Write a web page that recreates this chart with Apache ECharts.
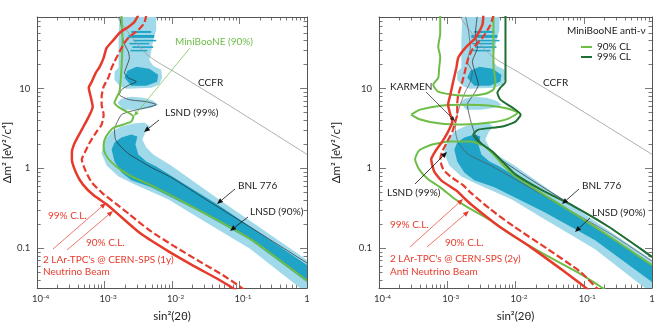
<!DOCTYPE html>
<html><head><meta charset="utf-8">
<script src="https://cdn.jsdelivr.net/npm/echarts@6/dist/echarts.min.js"></script>
<style>html,body{margin:0;padding:0;background:#fff}#c{width:664px;height:327px}</style>
</head><body><div id="c"></div>
<script>
// ---------- axis data ----------
const sinRange = [1e-4, 1];          // sin^2(2θ)
const dm2Range = [0.0316, 79.4];     // Δm^2 [eV^2/c^4]
const xTickValues = [1e-4, 1e-3, 1e-2, 1e-1, 1];
const yTickValues = [0.1, 1, 10];

// ---------- LSND allowed regions (shared by both panels) ----------
const lsndLightColumn = [[1.66e-3,79.4],[5.82e-3,79.4],[5.82e-3,54.6],[5.26e-3,41.0],[4.91e-3,29.0],[4.59e-3,23.0],[5.26e-3,19.4],[6.89e-3,17.3],[7.13e-3,13.7],[6.44e-3,11.2],[4.91e-3,10.3],[2.11e-3,10.0],[1.66e-3,10.9],[1.40e-3,13.0],[1.40e-3,16.3],[1.61e-3,18.3],[1.61e-3,41.0]];
const lsndLightIsland = [[1.55e-3,6.68],[1.78e-3,7.50],[2.49e-3,7.94],[3.75e-3,7.72],[5.26e-3,7.08],[6.22e-3,6.31],[4.91e-3,5.79],[3.16e-3,5.46],[1.90e-3,5.46]];
const lsndLightMain = [[9.35e-4,1.83],[1.03e-3,2.30],[1.27e-3,2.90],[1.78e-3,3.35],[2.67e-3,3.65],[3.87e-3,3.76],[4.75e-3,3.35],[4.01e-3,2.82],[3.62e-3,2.30],[4.15e-3,1.83],[5.26e-3,1.50],[9.67e-3,1.09],[4.91e-2,0.41],[1,0.0708],[1,0.0316],[0.789,0.0316],[0.145,0.0972],[2.67e-2,0.230],[8.73e-3,0.41],[2.76e-3,0.631],[1.61e-3,0.794],[1.07e-3,1.09],[9.03e-4,1.54]];
const lsndDarkMain = [[1.27e-3,1.73],[1.40e-3,2.11],[1.78e-3,2.44],[2.49e-3,2.66],[3.06e-3,2.51],[2.86e-3,2.0],[3.16e-3,1.50],[4.15e-3,1.22],[5.82e-3,1.06],[4.91e-2,0.345],[1,0.0613],[1,0.0376],[0.145,0.126],[2.67e-2,0.282],[4.91e-3,0.579],[2.49e-3,0.708],[1.78e-3,0.891],[1.40e-3,1.22]];
const lsndDarkBlob = [[1.97e-3,13.7],[2.18e-3,16.8],[2.96e-3,18.8],[4.59e-3,17.8],[6.22e-3,15.0],[6.01e-3,12.2],[4.15e-3,10.9],[2.49e-3,10.9]];
// stripes: [sinLow, sinHigh, dm2Low, dm2High]
const lsndDarkStripes = [[2.49e-3,4.91e-3,50.1,53.1],[2.25e-3,5.43e-3,43.4,47.3],[2.67e-3,5.82e-3,39.3,41.0],[2.33e-3,4.59e-3,36.0,37.6],[2.58e-3,5.26e-3,32.5,34.0],[2.41e-3,4.29e-3,29.4,30.7]];

const ccfr = [[1.36e-3,92],[2.11e-3,54.6],[4.29e-3,26.6],[1.15e-2,15.8],[7.4e-2,6.0],[1,1.5]];

// ---------- left panel (neutrino) ----------
const bnl776Nu = [[1.66e-3,84.1],[1.78e-3,57.9],[1.90e-3,38.7],[2.25e-3,29.0],[2.33e-3,24.4],[2.11e-3,18.8],[1.97e-3,15.8],[2.25e-3,13.7],[2.96e-3,12.2],[2.33e-3,11.2],[1.78e-3,9.72],[1.66e-3,8.41],[2.33e-3,7.29],[4.15e-3,6.88],[5.82e-3,6.31],[4.15e-3,5.79],[2.33e-3,5.16],[1.78e-3,4.73],[1.55e-3,3.87],[1.40e-3,3.07],[1.45e-3,2.30],[1.78e-3,1.83],[2.33e-3,1.50],[3.50e-3,1.22],[4.91e-3,1.03],[9.67e-3,0.772],[2.67e-2,0.447],[0.145,0.183],[1,0.065]];
const miniBooNENu = [[1.78e-3,84.1],[1.84e-3,38.7],[1.78e-3,18.3],[1.72e-3,12.2],[1.66e-3,9.17],[1.50e-3,7.72],[1.40e-3,6.68],[1.66e-3,5.79],[2.25e-3,5.01],[2.67e-3,4.47],[2.49e-3,3.87],[1.90e-3,3.55],[1.36e-3,3.25],[1.15e-3,2.82],[1.0e-3,2.30],[9.67e-4,1.88],[1.03e-3,1.50],[1.27e-3,1.19],[1.78e-3,0.944],[2.67e-3,0.772],[4.91e-3,0.613],[2.67e-2,0.29],[0.145,0.1296],[1,0.039]];
const lar99Nu = [[3.16e-3,84.1],[2.76e-3,68.8],[2.25e-3,59.6],[1.66e-3,50.1],[1.36e-3,41.0],[1.07e-3,32.5],[9.67e-4,24.4],[8.44e-4,18.8],[7.38e-4,15.8],[6.44e-4,12.2],[5.82e-4,10.3],[6.22e-4,7.94],[6.66e-4,5.96],[5.82e-4,4.47],[4.59e-4,3.07],[3.62e-4,2.11],[3.27e-4,1.58],[3.27e-4,1.30],[3.75e-4,0.891],[4.75e-4,0.631],[6.89e-4,0.46],[1.07e-3,0.355],[1.78e-3,0.244],[3.50e-3,0.150],[8.73e-3,0.0917],[2.11e-2,0.0596],[4.75e-2,0.041],[7.89e-2,0.0316],[0.1,0.0275]];
const lar90Nu = [[4.15e-3,84.1],[3.87e-3,66.8],[3.16e-3,54.6],[2.33e-3,44.7],[1.97e-3,37.6],[1.66e-3,29.0],[1.40e-3,21.8],[1.27e-3,18.3],[1.15e-3,14.1],[9.67e-4,10.6],[9.03e-4,7.94],[9.03e-4,6.31],[9.67e-4,4.73],[9.03e-4,3.55],[7.62e-4,2.90],[6.02e-4,2.11],[5.08e-4,1.58],[4.59e-4,1.30],[5.26e-4,0.917],[6.44e-4,0.668],[9.35e-4,0.487],[1.45e-3,0.365],[2.33e-3,0.266],[4.59e-3,0.168],[1.07e-2,0.106],[2.49e-2,0.0688],[5.62e-2,0.046],[0.1035,0.0325],[0.13,0.028]];

// ---------- right panel (anti-neutrino) ----------
const bnl776Anti = [[2.76e-3,84.1],[2.58e-3,47.3],[2.76e-3,32.5],[2.33e-3,21.8],[2.58e-3,15.8],[2.86e-3,11.2],[2.41e-3,8.41],[1.97e-3,6.31],[2.18e-3,4.10],[2.58e-3,2.66],[3.62e-3,1.83],[6.01e-3,1.30],[1.66e-2,0.729],[4.91e-2,0.41],[0.178,0.217],[1,0.0794]];
const karmen = [[1.84e-3,84.1],[2.04e-3,54.6],[2.18e-3,32.5],[1.97e-3,21.8],[2.33e-3,16.3],[2.18e-3,12.2],[1.84e-3,9.17],[1.55e-3,6.31],[1.36e-3,4.34],[1.31e-3,3.07],[1.45e-3,2.11],[2.04e-3,1.50],[4.29e-3,1.09],[1.19e-2,0.668],[4.59e-2,0.345],[0.249,0.150],[1,0.0688]];
const mbAnti90Upper = [[7.89e-4,84.1],[7.89e-4,50.1],[7.38e-4,33.5],[7.89e-4,25.1],[7.62e-4,18.3],[7.38e-4,13.7],[6.22e-4,11.2],[7.38e-4,9.17],[1.19e-3,8.41],[2.04e-3,8.18],[3.62e-3,8.66],[4.75e-3,9.72],[5.08e-3,12.2],[4.75e-3,20.0],[4.75e-3,84.1]];
const mbAnti90Island = [[2.96e-4,4.73],[4.01e-4,5.46],[7.89e-4,6.13],[1.72e-3,6.31],[4.29e-3,6.13],[7.89e-3,5.62],[1.07e-2,5.01],[7.89e-3,4.22],[4.29e-3,3.76],[1.72e-3,3.55],[7.89e-4,3.65],[4.01e-4,4.10],[2.96e-4,4.73]];
const mbAnti90Lower = [[0.25,0.027],[0.19,0.0316],[9.03e-2,0.0473],[2.96e-2,0.0794],[9.35e-3,0.141],[4.29e-3,0.224],[1.97e-3,0.326],[1.31e-3,0.41],[7.89e-4,0.579],[5.26e-4,0.729],[3.87e-4,0.972],[3.38e-4,1.30],[3.87e-4,1.68],[6.02e-4,2.0],[1.11e-3,2.17],[2.18e-3,2.17],[3.62e-3,1.88],[5.08e-3,1.41],[6.66e-3,1.09],[1.0e-2,0.794],[1.97e-2,0.546],[7.13e-2,0.274],[0.249,0.137],[1,0.0613]];
const mbAnti99 = [[7.13e-3,84.1],[7.13e-3,16.3],[7.13e-3,12.2],[6.01e-3,10.3],[5.43e-3,8.91],[6.01e-3,7.29],[9.03e-3,5.79],[1.19e-2,4.73],[1.0e-2,3.87],[6.44e-3,3.35],[2.86e-3,3.07],[2.41e-3,2.66],[2.86e-3,2.17],[4.59e-3,1.63],[6.44e-3,1.22],[1.0e-2,0.841],[2.33e-2,0.546],[7.13e-2,0.335],[0.225,0.188],[0.689,0.0972],[1,0.0772]];
const lar99Anti = [[3.38e-3,84.1],[3.27e-3,63.1],[2.58e-3,43.4],[1.84e-3,32.5],[1.45e-3,24.4],[1.36e-3,18.3],[1.22e-3,12.2],[1.11e-3,8.41],[1.03e-3,6.31],[1.11e-3,4.73],[1.19e-3,3.87],[1.03e-3,2.90],[8.44e-4,2.17],[6.66e-4,1.63],[5.82e-4,1.30],[6.44e-4,0.917],[8.16e-4,0.708],[1.40e-3,0.516],[1.84e-3,0.41],[2.41e-3,0.335],[5.43e-3,0.194],[1.66e-2,0.103],[5.08e-2,0.0516],[0.1035,0.0325],[0.13,0.028]];
const lar90Anti = [[4.75e-3,84.1],[4.29e-3,63.1],[3.27e-3,43.4],[2.41e-3,32.5],[2.04e-3,24.4],[1.84e-3,17.3],[1.66e-3,12.2],[1.45e-3,8.41],[1.40e-3,6.31],[1.40e-3,4.73],[1.31e-3,3.87],[1.19e-3,2.90],[1.0e-3,2.17],[8.44e-4,1.63],[7.89e-4,1.30],[8.73e-4,0.972],[1.11e-3,0.794],[1.72e-3,0.613],[2.18e-3,0.501],[4.29e-3,0.307],[9.35e-3,0.188],[2.96e-2,0.0972],[9.03e-2,0.0501],[0.155,0.0316],[0.2,0.027]];

// ---------- styling ----------
const FONT = 'Lato, "Liberation Sans", sans-serif';
const C = {light:'#9fd9ea', dark:'#1fa3c7', red:'#e63b2c', green:'#6dbd47', dgreen:'#1d6f33', black:'#2a2a2a', gray:'#9a9a9a', axis:'#555'};
const LOG = Math.log10;
const toLog = pts => pts.map(p => [LOG(p[0]), LOG(p[1])]);

const xMajor = xTickValues.map(LOG);
const xMinor = [];
for (let d = -4; d < 0; d++) for (let k = 2; k < 10; k++) xMinor.push(d + LOG(k));
const yMajor = yTickValues.map(LOG);
const yMinor = [];
for (let d = -2; d < 2; d++) for (let k = 2; k < 10; k++) { const v = d + LOG(k); if (v >= LOG(dm2Range[0]) && v <= LOG(dm2Range[1])) yMinor.push(v); }

const grids = [{left:35, top:17, width:272, height:271}, {left:379, top:17, width:273, height:271}];

function xAxesFor(g) {
  const base = {type:'value', gridIndex:g, min:LOG(sinRange[0]), max:LOG(sinRange[1]), splitLine:{show:false},
    axisLabel:{show:false}, axisLine:{show:false, onZero:false}, axisTick:{show:false}};
  const line = {show:true, onZero:false, lineStyle:{color:C.axis, width:1}};
  const tick = (vals, len) => ({show:true, inside:true, length:len, customValues:vals, lineStyle:{color:C.axis, width:0.8}});
  return [
    Object.assign({}, base, {position:'bottom', axisLine:line, axisTick:tick(xMajor, 7),
      name:'sin²(2θ)', nameLocation:'middle', nameGap:19, nameTextStyle:{fontSize:11.5, color:'#222', fontFamily:FONT},
      axisLabel:{show:true, customValues:xMajor, margin:5, color:'#333', fontFamily:FONT,
        formatter: v => Math.abs(v) < 1e-9 ? '{b|1}' : '{sp|}{b|10}{s|' + Math.round(v) + '}',
        rich:{b:{fontSize:9.5, color:'#333', fontFamily:FONT, lineHeight:12},
              s:{fontSize:6.5, color:'#333', fontFamily:FONT, verticalAlign:'top', lineHeight:8},
              sp:{width:7}}}}),
    Object.assign({}, base, {position:'bottom', axisTick:tick(xMinor, 3.5)}),
    Object.assign({}, base, {position:'top', axisLine:line, axisTick:tick(xMajor, 7)}),
    Object.assign({}, base, {position:'top', axisTick:tick(xMinor, 3.5)})
  ];
}
function yAxesFor(g, gap) {
  const base = {type:'value', gridIndex:g, min:LOG(dm2Range[0]), max:LOG(dm2Range[1]), splitLine:{show:false},
    axisLabel:{show:false}, axisLine:{show:false, onZero:false}, axisTick:{show:false}};
  const line = {show:true, onZero:false, lineStyle:{color:C.axis, width:1}};
  const tick = (vals, len) => ({show:true, inside:true, length:len, customValues:vals, lineStyle:{color:C.axis, width:0.8}});
  return [
    Object.assign({}, base, {position:'left', axisLine:line, axisTick:tick(yMajor, 7),
      name:'Δm² [eV²/c⁴]', nameLocation:'middle', nameGap:gap, nameRotate:90,
      nameTextStyle:{fontSize:11.5, color:'#222', fontFamily:FONT},
      axisLabel:{show:true, customValues:yMajor, margin:7, fontSize:9.5, color:'#333', fontFamily:FONT,
        formatter: v => String(parseFloat(Math.pow(10, v).toPrecision(3)))}}),
    Object.assign({}, base, {position:'left', axisTick:tick(yMinor, 3.5)}),
    Object.assign({}, base, {position:'right', axisLine:line, axisTick:tick(yMajor, 7)}),
    Object.assign({}, base, {position:'right', axisTick:tick(yMinor, 3.5)})
  ];
}

function poly(pts, color, g, z) {
  const lp = toLog(pts);
  return {type:'custom', xAxisIndex:g*4, yAxisIndex:g*4, z:z, silent:true, clip:true, animation:false,
    data:[[-2, 0]],
    renderItem: (params, api) => ({type:'polygon', shape:{points: lp.map(p => api.coord(p))}, style:{fill:color}})};
}
function stripes(list, color, g, z) {
  const polys = list.map(s => [[s[0],s[2]],[s[1],s[2]],[s[1],s[3]],[s[0],s[3]]]);
  return polys.map(p => poly(p, color, g, z));
}
function line(pts, color, width, g, z, opts) {
  return Object.assign({type:'line', xAxisIndex:g*4, yAxisIndex:g*4, z:z, data:toLog(pts), showSymbol:false, symbol:'none',
    silent:true, animation:false, smooth:0.2, clip:true,
    lineStyle:{color:color, width:width}, itemStyle:{color:color}}, opts || {});
}

function lsndSeries(g) {
  return [
    poly(lsndLightColumn, C.light, g, 1), poly(lsndLightIsland, C.light, g, 1), poly(lsndLightMain, C.light, g, 1),
    poly(lsndDarkMain, C.dark, g, 2), poly(lsndDarkBlob, C.dark, g, 2)
  ].concat(stripes(lsndDarkStripes, C.dark, g, 2));
}

const series = []
  .concat(lsndSeries(0))
  .concat([
    line(ccfr, C.gray, 0.8, 0, 3, {smooth:0.3}),
    line(bnl776Nu, C.black, 0.7, 0, 4),
    line(miniBooNENu, C.green, 2, 0, 5),
    line(lar90Nu, C.red, 2.2, 0, 6, {lineStyle:{color:C.red, width:2.2, type:[7,3]}}),
    line(lar99Nu, C.red, 2.5, 0, 6)
  ])
  .concat(lsndSeries(1))
  .concat([
    line(ccfr, C.gray, 0.8, 1, 3, {smooth:0.3}),
    line(karmen, '#555', 0.7, 1, 4),
    line(bnl776Anti, C.black, 0.7, 1, 4),
    line(mbAnti90Upper, C.green, 2, 1, 5, {name:'90% CL'}),
    line(mbAnti90Island, C.green, 2, 1, 5, {name:'90% CL'}),
    line(mbAnti90Lower, C.green, 2, 1, 5, {name:'90% CL'}),
    line(mbAnti99, C.dgreen, 2, 1, 5, {name:'99% CL'}),
    line(lar90Anti, C.red, 2.2, 1, 6, {lineStyle:{color:C.red, width:2.2, type:[7,3]}}),
    line(lar99Anti, C.red, 2.5, 1, 6)
  ]);

// ---------- annotations (pixel layout) ----------
function txt(x, y, s, color, size) {
  return {type:'text', x:x, y:y, z:100, style:{text:s, fill:color || '#222', font: (size || 10) + 'px ' + FONT, textAlign:'left', textVerticalAlign:'middle'}};
}
function arrow(x1, y1, x2, y2, color, w, head) {
  const a = Math.atan2(y2 - y1, x2 - x1), L = head || 6, W = L * 0.42;
  const bx = x2 - L * Math.cos(a), by = y2 - L * Math.sin(a);
  const px = -Math.sin(a) * W, py = Math.cos(a) * W;
  return [
    {type:'line', z:100, shape:{x1:x1, y1:y1, x2:bx, y2:by}, style:{stroke:color, lineWidth:w}},
    {type:'polygon', z:100, shape:{points:[[x2, y2],[bx + px, by + py],[bx - px, by - py]]}, style:{fill:color}}
  ];
}
const graphics = [].concat(
  txt(175, 42, 'MiniBooNE (90%)', C.green),
  arrow(190, 48, 134, 116, C.green, 0.7, 5),
  txt(198, 83, 'CCFR'),
  txt(165, 113, 'LSND (99%)'),
  arrow(159, 120, 144, 132, '#111', 0.8, 6),
  txt(238, 186, 'BNL 776'),
  arrow(235, 189, 217, 204, '#111', 0.8, 6),
  txt(250, 212, 'LNSD (90%)'),
  arrow(248, 217, 230, 231, '#111', 0.8, 6),
  txt(48, 216, '99% C.L.', C.red),
  txt(86, 243, '90% C.L.', C.red),
  txt(43, 260, "2 LAr-TPC's @ CERN-SPS (1y)", C.red),
  txt(43, 272, 'Neutrino Beam', C.red),
  arrow(53, 249, 106, 203, C.red, 0.7, 6),
  arrow(67, 250, 113, 211, C.red, 0.7, 6),

  txt(567, 31, 'MiniBooNE anti-ν', '#222'),
  txt(543, 83, 'CCFR'),
  txt(390, 87, 'KARMEN'),
  arrow(426, 92, 455, 121, '#222', 0.7, 5),
  txt(387, 193, 'LSND (99%)'),
  arrow(415, 184, 447, 152, '#111', 0.8, 6),
  txt(582, 186, 'BNL 776'),
  arrow(579, 189, 562, 204, '#111', 0.8, 6),
  txt(592, 213, 'LNSD (90%)'),
  arrow(590, 218, 575, 232, '#111', 0.8, 6),
  txt(390, 225, '99% C.L.', C.red),
  txt(445, 243, '90% C.L.', C.red),
  txt(390, 259, "2 LAr-TPC's @ CERN-SPS (2y)", C.red),
  txt(390, 272, 'Anti Neutrino Beam', C.red),
  arrow(410, 247, 463, 199, C.red, 0.7, 6),
  arrow(427, 247, 469, 211, C.red, 0.7, 6)
);

const chart = echarts.init(document.getElementById('c'), null, {renderer:'canvas'});
chart.setOption({
  animation:false,
  backgroundColor:'#fff',
  grid: grids,
  xAxis: xAxesFor(0).concat(xAxesFor(1)),
  yAxis: yAxesFor(0, 20).concat(yAxesFor(1, 37)),
  legend: {left:576, top:37, orient:'vertical', icon:'rect', itemWidth:11, itemHeight:2, itemGap:0, selectedMode:false,
    data:['90% CL','99% CL'], textStyle:{fontSize:10, color:'#222', fontFamily:FONT, lineHeight:10}},
  series: series,
  graphic: graphics
});
</script>
</body></html>
